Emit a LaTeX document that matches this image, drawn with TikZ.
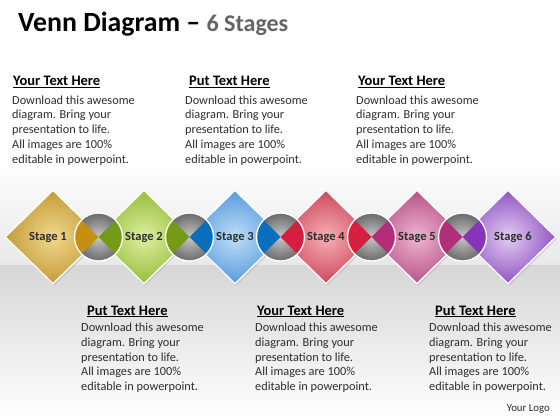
\documentclass[tikz,border=0pt]{standalone}
\usepackage{fontspec}
\setmainfont{Carlito}
\usetikzlibrary{shapes.geometric,shadows}
\definecolor{la}{RGB}{240,216,140}\definecolor{da}{RGB}{196,156,58}\definecolor{wa}{RGB}{198,142,18}
\definecolor{lb}{RGB}{222,238,160}\definecolor{db}{RGB}{150,190,60}\definecolor{wb}{RGB}{116,154,22}
\definecolor{lc}{RGB}{190,222,248}\definecolor{dc}{RGB}{88,155,220}\definecolor{wc}{RGB}{8,110,190}
\definecolor{ld}{RGB}{246,176,182}\definecolor{dd}{RGB}{206,72,92}\definecolor{wd}{RGB}{214,30,62}
\definecolor{le}{RGB}{238,180,208}\definecolor{de}{RGB}{184,82,136}\definecolor{we}{RGB}{178,46,120}
\definecolor{lf}{RGB}{226,204,240}\definecolor{df}{RGB}{146,86,196}\definecolor{wf}{RGB}{134,52,186}
\definecolor{txtgray}{RGB}{45,45,45}
\definecolor{titlegray}{RGB}{100,100,100}
\tikzset{
  stagebox/.style={diamond, minimum width=96pt, minimum height=94pt, inner sep=0pt,
    draw=white, line width=1.3pt,
    drop shadow={shadow xshift=1pt, shadow yshift=-2pt, opacity=0.25}},
  stagelbl/.style={inner sep=0pt, font=\fontsize{12.5}{14}\selectfont\bfseries, text=txtgray},
  joint/.style={circle, minimum size=48pt, inner sep=0pt, inner color=black!22, outer color=black!58},
  headtxt/.style={anchor=base west, inner sep=0pt, font=\fontsize{14.5}{16}\selectfont\bfseries, text=black},
  bodytxt/.style={anchor=base west, inner sep=0pt, align=left, font=\fontsize{12.3}{14.8}\selectfont, text=txtgray},
}
\newcommand\blurb{Download this awesome\\diagram. Bring your\\presentation to life.\\All images are 100\%\\editable in powerpoint.}
\begin{document}
\begin{tikzpicture}[x=1pt,y=-1pt]
\useasboundingbox (0,0) rectangle (560,420);
% background
\fill[white] (0,0) rectangle (560,160);
\shade[top color=white, bottom color=black!9] (0,159) rectangle (560,265);
\shade[top color=black!16, bottom color=white] (0,265) rectangle (560,420);
% title
\node[anchor=base west, inner sep=0pt] (title) at (18,32)
  {\fontsize{27.8}{30}\selectfont\bfseries Venn Diagram – {\fontsize{24}{26}\selectfont\color{titlegray}6 Stages}};
% diamonds
\foreach \i/\l/\d/\x/\dx in {1/la/da/53/-5,2/lb/db/144/0,3/lc/dc/235/0,4/ld/dd/326/0,5/le/de/417/0,6/lf/df/508/5}{
  \node[stagebox, inner color=\l, outer color=\d] (s\i) at (\x,237) {};
  \node[stagelbl] (t\i) at ([xshift=\dx pt]s\i.center) {Stage \i};
}
% joints
\foreach \j/\a/\b in {1/wa/wb,2/wb/wc,3/wc/wd,4/wd/we,5/we/wf}{
  \pgfmathtruncatemacro\k{\j+1}
  \path (s\j.center) -- (s\k.center) coordinate[pos=0.5] (m\j);
  \node[joint] (c\j) at (m\j) {};
  \fill[\a] (c\j.center) -- (c\j.135) arc[start angle=135, end angle=225, radius=24pt] -- cycle;
  \fill[\b] (c\j.center) -- (c\j.45) arc[start angle=45, end angle=-45, radius=24pt] -- cycle;
  \draw[white, line width=1.3pt] (c\j.center) circle[radius=24pt];
}
% top texts
\node[headtxt] (h1) at (13,85.5) {\underline{Your Text Here}};
\node[bodytxt] (b1) at (12,163.2) {\blurb};
\node[headtxt] (h2) at (189,85.5) {\underline{Put Text Here}};
\node[bodytxt] (b2) at (185,163.2) {\blurb};
\node[headtxt] (h3) at (358,85.5) {\underline{Your Text Here}};
\node[bodytxt] (b3) at (356,163.2) {\blurb};
% bottom texts
\node[headtxt] (h4) at (87,315) {\underline{Put Text Here}};
\node[bodytxt] (b4) at (81,390.7) {\blurb};
\node[headtxt] (h5) at (257,315) {\underline{Your Text Here}};
\node[bodytxt] (b5) at (255,390.7) {\blurb};
\node[headtxt] (h6) at (435,315) {\underline{Put Text Here}};
\node[bodytxt] (b6) at (429,390.7) {\blurb};
\node[anchor=base east, inner sep=0pt, font=\fontsize{10.8}{12}\selectfont, text=txtgray] (logo) at (550,411) {Your Logo};
\end{tikzpicture}
\end{document}
